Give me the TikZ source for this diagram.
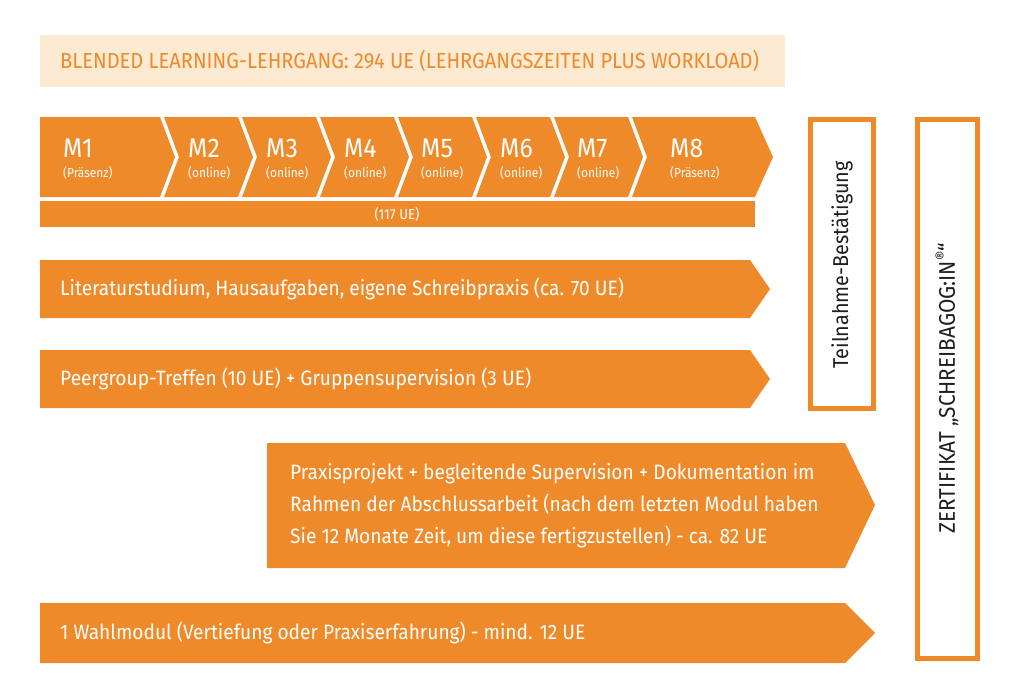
\documentclass[tikz,border=0pt]{standalone}
\usepackage{fontspec}
\setmainfont{Fira Sans}[FakeStretch=0.92]
\usetikzlibrary{positioning}

\definecolor{kursorange}{HTML}{EF8A2B}
\definecolor{kurspfirsich}{HTML}{FDEAD2}
\definecolor{kursdunkel}{HTML}{1E1E1E}

\tikzset{
  band/.style={fill=kursorange},
  bandtext/.style={text=white, anchor=west, inner sep=0pt, font=\fontsize{20.8}{32}\selectfont},
  modname/.style={text=white, anchor=base west, inner sep=0pt, font=\fontsize{27}{28}\selectfont},
  modtyp/.style={text=white, anchor=base west, inner sep=0pt, font=\fontsize{13}{14}\selectfont},
  rahmen/.style={draw=kursorange, line width=5pt},
  rahmentext/.style={rotate=90, text=kursdunkel, inner sep=0pt, font=\fontsize{21.5}{24}\selectfont},
}

\begin{document}
\begin{tikzpicture}[x=1pt,y=-1pt]
    \useasboundingbox (0,0) rectangle (1024,697);

    % 绘制标题栏
    \fill[kurspfirsich] (40,35) rectangle (785,87);
    \node[anchor=west, inner sep=0pt, text=kursorange, font=\fontsize{21.8}{24}\selectfont] (titel) at (60,61)
        {BLENDED LEARNING-LEHRGANG: 294 UE (LEHRGANGSZEITEN PLUS WORKLOAD)};

    % 绘制模块 M1--M8
    \fill[band] (40,117) -- (160,117) -- (175,157) -- (160,197) -- (40,197) -- cycle;
    \foreach \l/\r in {164/238, 242/316, 320/394, 398/472, 476/550, 554/628} {
        \fill[band] (\l,117) -- (\r,117) -- (\r+15,157) -- (\r,197) -- (\l,197) -- (\l+15,157) -- cycle;
    }
    \fill[band] (632,117) -- (755,117) -- (773,157) -- (755,197) -- (632,197) -- (647,157) -- cycle;

    % 模块文字
    \foreach \n/\x/\art in {1/63/Präsenz, 2/188/online, 3/266/online, 4/344/online,
                            5/421/online, 6/500/online, 7/577/online, 8/670/Präsenz} {
        \node[modname] (m\n) at (\x,157) {M\n};
        \node[modtyp] (art\n) at (\x,177) {(\art)};
    }

    % 绘制 117 UE 条
    \fill[band] (40,201) rectangle (755,227);
    \node[text=white, inner sep=0pt, font=\fontsize{14.4}{16}\selectfont] (ue117) at (397,214) {(117 UE)};

    % 绘制箭头条
    \fill[band] (40,260) -- (750,260) -- (770,289) -- (750,318) -- (40,318) -- cycle;
    \node[bandtext] (literatur) at (60,289) {Literaturstudium, Hausaufgaben, eigene Schreibpraxis (ca. 70 UE)};

    \fill[band] (40,350) -- (750,350) -- (770,379) -- (750,408) -- (40,408) -- cycle;
    \node[bandtext] (peergroup) at (60,379) {Peergroup-Treffen (10 UE) + Gruppensupervision (3 UE)};

    \fill[band] (267,443) -- (845,443) -- (875,505) -- (845,568) -- (267,568) -- cycle;
    \node[bandtext, align=left] (praxis) at (290,506)
        {Praxisprojekt + begleitende Supervision + Dokumentation im\\
         Rahmen der Abschlussarbeit (nach dem letzten Modul haben\\
         Sie 12 Monate Zeit, um diese fertigzustellen) - ca. 82 UE};

    \fill[band] (40,603) -- (845,603) -- (875,633) -- (845,663) -- (40,663) -- cycle;
    \node[bandtext] (wahl) at (60,633) {1 Wahlmodul (Vertiefung oder Praxiserfahrung) - mind. 12 UE};

    % 绘制右侧方框
    \draw[rahmen] (810.5,119.5) rectangle (873.5,408.5);
    \node[rahmentext] (teilnahme) at (842,265) {Teilnahme-Bestätigung};

    \draw[rahmen] (917.5,119.5) rectangle (977.5,658.5);
    \node[rahmentext, font=\fontsize{22.6}{24}\selectfont] (zertifikat) at (947,388) {ZERTIFIKAT „SCHREIBAGOG:IN\textsuperscript{®}“};

\end{tikzpicture}
\end{document}
